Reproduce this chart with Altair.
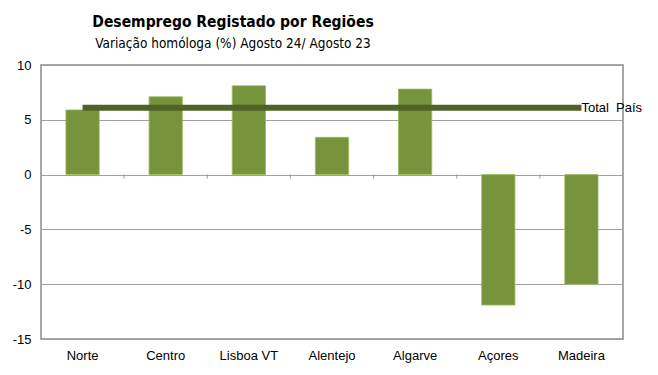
import altair as alt
import pandas as pd

regions = ["Norte", "Centro", "Lisboa VT", "Alentejo", "Algarve", "Açores", "Madeira"]
values = [5.9, 7.1, 8.1, 3.4, 7.8, -11.9, -10.0]
total_pais = 6.1
total_label = "Total\u00a0\u00a0País"
y_ticks = [-15, -10, -5, 0, 5, 10]

df = pd.DataFrame({"region": regions, "value": values})
line_df = pd.DataFrame({"region": [regions[0], regions[-1]], "value": [total_pais, total_pais]})
label_df = pd.DataFrame({"region": [regions[-1]], "value": [total_pais], "label": [total_label]})
tick_df = pd.DataFrame({"region": regions[:-1], "value": [0] * (len(regions) - 1)})

xscale = alt.Scale(paddingInner=0.6, paddingOuter=0.3)
x = alt.X("region:N", sort=regions, title=None, scale=xscale,
          axis=alt.Axis(labelAngle=0, ticks=False, domain=False, labelPadding=10,
                        labelFont="Liberation Sans", labelFontSize=13, labelColor="#000"))
y = alt.Y("value:Q", title=None,
          scale=alt.Scale(domain=[-15, 10], nice=False),
          axis=alt.Axis(values=y_ticks, ticks=False, domain=False, grid=True,
                        gridColor="#a0a0a0", gridWidth=1.2, labelPadding=10,
                        labelExpr="datum.value < 0 ? '-' + abs(datum.value) : '' + datum.value",
                        labelFont="Liberation Sans", labelFontSize=13, labelColor="#000"))

bars = alt.Chart(df).mark_bar(color="#77933C", stroke="#9BBB59", strokeWidth=0.8).encode(x=x, y=y)

# small ticks on the zero line between categories (half the inner gap past each bar)
zero_ticks = alt.Chart(tick_df).mark_tick(orient="vertical", size=4, thickness=1.2,
                                          color="#8a8a8a", yOffset=2, xOffset=24.9).encode(
    x=alt.X("region:N", sort=regions, bandPosition=1),
    y=alt.Y("value:Q"))

line = alt.Chart(line_df).mark_line(color="#4F6228", strokeWidth=6, strokeCap="butt").encode(
    x=alt.X("region:N", sort=regions), y="value:Q")
label = alt.Chart(label_df).mark_text(align="left", baseline="middle", dx=0,
                                      font="Liberation Sans", fontSize=13, color="#000").encode(
    x=alt.X("region:N", sort=regions), y="value:Q", text="label:N")

chart = alt.layer(bars, zero_ticks, line, label).properties(
    width=582, height=274,
    background="white",
    autosize=alt.AutoSizeParams(type="none"),
    padding={"left": 33, "top": 57, "right": 27, "bottom": 28},
    title=alt.TitleParams(
        "Desemprego Registado por Regiões",
        subtitle="Variação homóloga (%) Agosto 24/ Agosto 23",
        anchor="middle", dx=-99, offset=9,
        font="DejaVu Sans Condensed", fontSize=15.5, fontWeight="bold", color="#000",
        subtitleFont="DejaVu Sans Condensed", subtitleFontSize=13.5, subtitleColor="#000",
        subtitlePadding=6),
).configure_view(stroke="#8a8a8a", strokeWidth=1.5)

chart.save("out.html", embed_options={"renderer": "svg", "actions": False})
